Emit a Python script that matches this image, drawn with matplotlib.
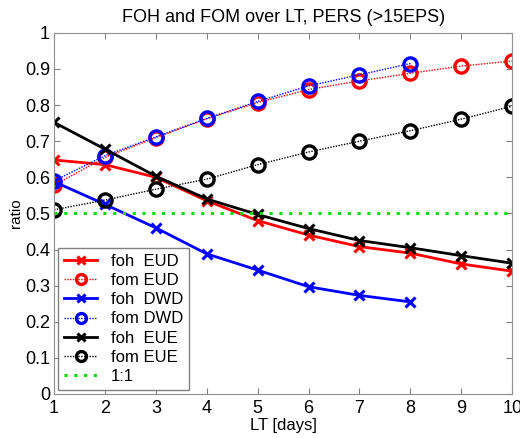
import matplotlib
matplotlib.use("Agg")
import matplotlib.pyplot as plt
import numpy as np

plt.rcParams["font.family"] = ["Liberation Sans", "DejaVu Sans"]

lt = [1, 2, 3, 4, 5, 6, 7, 8, 9, 10]
lt_dwd = [1, 2, 3, 4, 5, 6, 7, 8]

foh_eud = [0.648, 0.635, 0.600, 0.535, 0.480, 0.440, 0.408, 0.390, 0.360, 0.340]
fom_eud = [0.578, 0.655, 0.710, 0.762, 0.807, 0.843, 0.867, 0.888, 0.908, 0.922]
foh_dwd = [0.588, 0.525, 0.460, 0.388, 0.343, 0.297, 0.273, 0.255]
fom_dwd = [0.590, 0.660, 0.712, 0.763, 0.810, 0.853, 0.884, 0.915]
foh_eue = [0.752, 0.678, 0.603, 0.540, 0.497, 0.458, 0.425, 0.405, 0.383, 0.362]
fom_eue = [0.510, 0.537, 0.567, 0.595, 0.635, 0.670, 0.700, 0.729, 0.761, 0.797]
one_to_one = [0.5] * len(lt)

fig = plt.figure(figsize=(5.2, 4.38), dpi=100)
ax = fig.add_axes([0.104, 0.1005, 0.881, 0.8245])

solid = dict(linestyle="-", linewidth=2.0, marker="x", markersize=7, markeredgewidth=2.2)
dotted = dict(linestyle=(0, (1, 1)), linewidth=1.0, marker="o", markersize=9.5,
              markeredgewidth=2.4, markerfacecolor="none")

ax.plot(lt, foh_eud, color="red", label="foh  EUD", **solid)
ax.plot(lt, fom_eud, color="red", label="fom EUD", **dotted)
ax.plot(lt_dwd, foh_dwd, color="blue", label="foh  DWD", **solid)
ax.plot(lt_dwd, fom_dwd, color="blue", label="fom DWD", **dotted)
ax.plot(lt, foh_eue, color="black", label="foh  EUE", **solid)
ax.plot(lt, fom_eue, color="black", label="fom EUE", **dotted)
ax.plot(lt, one_to_one, color="#00e000", linestyle=(0, (1, 2.2)), linewidth=2.2, label="1:1")

ax.set_xlim(1, 10)
ax.set_ylim(0, 1)
ax.set_xticks(lt)
ax.set_yticks(np.round(np.arange(0, 1.01, 0.1), 1))
ax.set_yticklabels(["0", "0.1", "0.2", "0.3", "0.4", "0.5", "0.6", "0.7", "0.8", "0.9", "1"])
ax.tick_params(direction="in", top=True, right=True, labelsize=13, length=4,
               color="#808080")
ax.tick_params(axis="x", pad=4)
ax.tick_params(axis="y", pad=3)
for s in ax.spines.values():
    s.set_color("#909090")

ax.set_title("FOH and FOM over LT, PERS (>15EPS)", fontsize=13, pad=8)
ax.set_xlabel("LT [days]", fontsize=12, labelpad=1)
ax.set_ylabel("ratio", fontsize=11, labelpad=1)

leg = ax.legend(loc="lower left", fontsize=12, fancybox=False, framealpha=1,
                handlelength=2.0, handletextpad=0.8, labelspacing=0.25,
                borderpad=0.35, borderaxespad=0.25, markerscale=0.75)
leg.get_frame().set_edgecolor("#808080")
leg.get_frame().set_linewidth(1.0)

fig.savefig("out.png", dpi=100)
